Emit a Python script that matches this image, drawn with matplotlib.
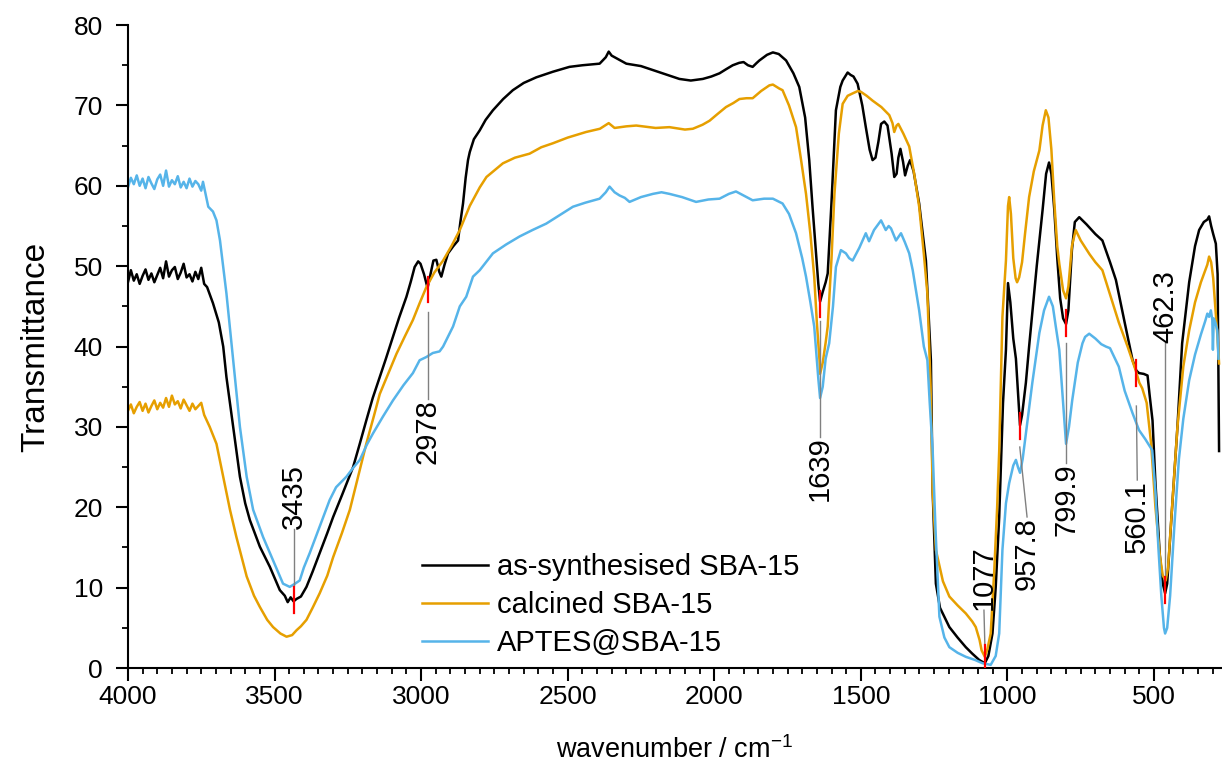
import matplotlib
matplotlib.use("Agg")
from matplotlib import pyplot as plt
from matplotlib.ticker import MultipleLocator

# --- data (wavenumber / cm-1, transmittance) ---
black_wn = [4000, 3990, 3980, 3970, 3960, 3950, 3940, 3930, 3920, 3910, 3900, 3890, 3880, 3870,
            3860, 3850, 3840, 3830, 3820, 3810, 3800, 3790, 3780, 3770, 3760, 3750, 3740, 3730,
            3710, 3690, 3675, 3664, 3641, 3618, 3600, 3584, 3550, 3516, 3482, 3465, 3455, 3445,
            3435, 3425, 3410, 3391, 3370, 3346, 3320, 3300, 3270, 3232, 3210, 3187, 3165, 3141,
            3120, 3096, 3075, 3050, 3035, 3022, 3010, 3002, 2990, 2978, 2968, 2958, 2948, 2938,
            2931, 2920, 2908, 2890, 2874, 2866, 2857, 2848, 2840, 2834, 2820, 2800, 2780, 2755,
            2720, 2687, 2650, 2607, 2550, 2494, 2450, 2391, 2370, 2360, 2350, 2330, 2300, 2250,
            2209, 2160, 2119, 2080, 2039, 2010, 1982, 1960, 1937, 1915, 1900, 1885, 1869, 1855,
            1846, 1820, 1800, 1780, 1755, 1730, 1710, 1690, 1676, 1665, 1653, 1645, 1639, 1630,
            1620, 1613, 1600, 1585, 1570, 1562, 1545, 1535, 1525, 1511, 1495, 1483, 1470, 1460,
            1450, 1440, 1431, 1420, 1409, 1395, 1386, 1378, 1372, 1365, 1356, 1349, 1340, 1332,
            1320, 1301, 1278, 1261, 1255, 1244, 1230, 1198, 1170, 1142, 1120, 1096, 1077, 1065,
            1051, 1040, 1028, 1015, 1005, 998, 990, 980, 971, 957, 950, 937, 926, 900, 880, 868,
            858, 850, 840, 830, 820, 810, 800, 792, 780, 770, 755, 730, 700, 676, 650, 630, 600,
            573, 560, 551, 535, 522, 515, 505, 495, 480, 470, 462, 455, 440, 420, 404, 380, 360,
            346, 330, 318, 312, 305, 298, 289, 283, 281, 278]
black_t = [48.0, 49.5, 48.2, 49.0, 47.8, 48.8, 49.6, 48.3, 49.1, 48.0, 48.9, 49.8, 48.5, 50.6,
           48.7, 49.5, 49.9, 48.4, 49.2, 50.3, 48.6, 49.0, 48.1, 49.3, 48.4, 49.8, 47.8, 47.4,
           45.4, 43.0, 40.0, 36.2, 30.0, 23.8, 20.5, 18.4, 15.1, 12.6, 9.7, 9.0, 8.2, 8.8,
           8.3, 8.6, 8.9, 10.1, 12.0, 14.3, 16.8, 18.8, 21.5, 25.0, 27.8, 30.8, 33.6, 36.2,
           38.5, 41.2, 43.6, 46.2, 48.1, 49.9, 50.6, 50.3, 49.0, 47.3, 49.0, 50.7, 50.8, 49.3,
           48.7, 50.2, 51.6, 52.5, 53.2, 55.5, 57.8, 61.0, 63.2, 64.2, 65.8, 66.9, 68.2, 69.4,
           70.8, 71.9, 72.8, 73.5, 74.2, 74.8, 75.0, 75.2, 76.0, 76.7, 76.2, 75.8, 75.2, 74.9,
           74.4, 73.8, 73.3, 73.1, 73.3, 73.6, 74.0, 74.5, 75.0, 75.3, 75.4, 75.0, 74.8, 75.3,
           75.6, 76.3, 76.6, 76.4, 75.6, 74.0, 72.3, 68.5, 63.2, 57.5, 51.6, 47.8, 45.6, 46.8,
           48.0, 49.1, 58.0, 69.4, 72.3, 73.1, 74.1, 73.8, 73.6, 72.7, 70.0, 67.3, 64.5, 63.2,
           63.5, 65.5, 67.7, 68.0, 67.5, 64.0, 61.1, 61.5, 63.5, 64.6, 63.0, 61.3, 62.5, 63.2,
           61.8, 57.8, 50.7, 38.3, 22.0, 10.5, 7.5, 5.1, 3.8, 2.6, 1.8, 1.0, 0.6, 1.5,
           4.3, 10.0, 18.8, 33.0, 39.6, 47.9, 45.5, 41.0, 38.5, 30.2, 31.5, 35.5, 40.0, 50.0, 57.0, 61.5,
           62.9, 61.5, 57.0, 51.0, 46.0, 43.5, 42.8, 44.5, 52.0, 55.5, 56.1, 55.2, 54.0, 53.2, 50.5, 48.3, 43.0,
           38.3, 37.0, 36.7, 36.6, 36.4, 34.0, 30.8, 23.0, 14.0, 10.5, 9.3, 10.5, 19.0, 30.0, 40.4, 48.0, 52.5,
           54.5, 55.5, 55.8, 56.2, 55.0, 54.0, 52.8, 49.0, 40.0, 27.0]

orange_wn = [4000, 3990, 3980, 3970, 3960, 3950, 3940, 3930, 3920, 3910, 3900, 3890, 3880, 3870,
             3860, 3850, 3840, 3830, 3820, 3810, 3800, 3790, 3780, 3770, 3760, 3750, 3740, 3721,
             3698, 3675, 3652, 3630, 3595, 3570, 3550, 3525, 3505, 3480, 3459, 3440, 3425, 3410,
             3391, 3370, 3346, 3320, 3300, 3270, 3243, 3215, 3187, 3160, 3141, 3110, 3084, 3055,
             3028, 3005, 2982, 2955, 2925, 2895, 2868, 2834, 2800, 2777, 2721, 2680, 2630, 2590,
             2550, 2500, 2437, 2390, 2360, 2340, 2300, 2266, 2200, 2153, 2100, 2073, 2040, 2016,
             1990, 1960, 1935, 1914, 1890, 1869, 1840, 1812, 1800, 1778, 1767, 1745, 1721, 1705,
             1687, 1672, 1659, 1650, 1641, 1639, 1630, 1620, 1613, 1600, 1590, 1575, 1562, 1545,
             1528, 1510, 1500, 1480, 1460, 1430, 1403, 1392, 1386, 1378, 1372, 1355, 1335, 1318,
             1301, 1285, 1273, 1262, 1255, 1244, 1220, 1198, 1170, 1142, 1120, 1108, 1095, 1088,
             1077, 1068, 1057, 1045, 1035, 1028, 1017, 1005, 998, 994, 988, 980, 972, 967, 960,
             950, 940, 926, 910, 891, 880, 869, 860, 850, 840, 830, 823, 810, 800, 792, 780, 767,
             750, 720, 700, 676, 650, 620, 590, 562, 550, 540, 525, 510, 495, 480, 470, 460, 452,
             440, 420, 400, 380, 360, 340, 325, 318, 312, 305, 298, 289, 283, 278]
orange_t = [32.0, 32.8, 31.7, 32.5, 33.1, 32.0, 32.9, 31.8, 32.6, 33.3, 32.2, 33.0, 32.4, 33.6,
            32.5, 33.9, 32.8, 33.2, 32.3, 33.4, 32.7, 32.0, 32.9, 32.2, 32.6, 33.0, 31.5, 30.0,
            27.9, 23.8, 19.7, 16.3, 11.4, 9.0, 7.6, 6.0, 5.1, 4.3, 3.9, 4.1, 4.7, 5.2,
            6.0, 7.5, 9.3, 11.5, 13.8, 16.8, 19.7, 23.8, 27.9, 31.5, 34.1, 36.8, 39.1, 41.3,
            43.3, 45.4, 47.4, 49.2, 50.7, 52.6, 54.5, 57.5, 59.8, 61.1, 62.8, 63.5, 64.0, 64.8,
            65.3, 66.0, 66.7, 67.1, 67.8, 67.2, 67.4, 67.5, 67.2, 67.3, 67.0, 67.1, 67.6, 68.1,
            68.9, 69.8, 70.3, 70.8, 70.9, 70.9, 71.8, 72.5, 72.6, 72.1, 71.9, 70.0, 67.3, 63.5,
            59.0, 54.0, 48.7, 43.0, 38.3, 36.6, 38.0, 40.5, 42.5, 51.0, 59.0, 66.5, 70.2, 71.2,
            71.5, 71.8, 71.7, 71.2, 70.6, 69.8, 68.8, 67.8, 66.7, 67.5, 67.7, 66.5, 64.9, 61.5,
            57.4, 51.5, 46.6, 35.0, 22.0, 14.7, 10.8, 8.9, 7.8, 6.8, 5.8, 5.1, 3.5, 2.2,
            1.4, 2.4, 4.3, 12.0, 20.0, 27.0, 43.7, 50.7, 57.5, 58.6, 56.5, 51.0, 48.5, 48.0, 48.6,
            50.5, 54.0, 58.6, 61.8, 64.4, 67.5, 69.4, 68.5, 64.5, 58.0, 52.5, 50.3, 47.0, 46.0, 47.5, 52.5, 54.5,
            53.2, 51.5, 50.5, 49.5, 46.5, 43.0, 40.0, 37.0, 35.5, 34.8, 33.0, 28.0, 20.0, 14.0, 11.5, 10.9, 12.5,
            19.0, 30.0, 37.5, 42.0, 45.5, 48.0, 49.5, 50.2, 51.2, 50.5, 48.5, 44.1, 41.0, 37.9]

blue_wn = [4000, 3990, 3980, 3970, 3960, 3950, 3940, 3930, 3920, 3910, 3900, 3890, 3880, 3870,
           3860, 3850, 3840, 3830, 3820, 3810, 3800, 3790, 3780, 3770, 3760, 3750, 3744, 3726,
           3710, 3698, 3686, 3664, 3641, 3618, 3595, 3573, 3539, 3505, 3471, 3448, 3430, 3414,
           3400, 3380, 3346, 3312, 3290, 3255, 3232, 3209, 3185, 3164, 3130, 3096, 3060, 3028,
           3005, 2982, 2960, 2937, 2925, 2891, 2868, 2846, 2823, 2800, 2755, 2710, 2664, 2620,
           2573, 2530, 2482, 2440, 2391, 2370, 2357, 2340, 2323, 2305, 2289, 2250, 2209, 2180,
           2153, 2110, 2062, 2020, 1982, 1950, 1926, 1900, 1869, 1830, 1800, 1767, 1745, 1721,
           1700, 1687, 1672, 1659, 1645, 1639, 1630, 1620, 1608, 1595, 1585, 1568, 1551, 1540,
           1528, 1505, 1483, 1472, 1455, 1431, 1415, 1405, 1397, 1380, 1363, 1350, 1335, 1323,
           1301, 1285, 1273, 1265, 1255, 1245, 1232, 1215, 1198, 1170, 1142, 1110, 1085, 1057,
           1040, 1028, 1017, 1005, 994, 980, 971, 964, 957, 948, 937, 915, 891, 875, 858, 845,
           835, 823, 812, 800, 790, 779, 760, 744, 735, 721, 700, 680, 664, 650, 620, 600, 573,
           551, 530, 506, 495, 485, 475, 466, 462, 455, 445, 430, 415, 400, 380, 360, 340, 325,
           318, 312, 306, 301, 299, 296, 290, 284, 280]
blue_t = [59.8, 61.0, 60.2, 61.3, 60.0, 60.9, 59.7, 61.1, 60.3, 59.6, 60.8, 61.4, 60.0, 61.9,
          59.9, 60.7, 60.2, 61.2, 59.8, 60.5, 59.7, 60.9, 59.9, 60.6, 60.2, 59.4, 60.5, 57.4,
          56.8, 55.7, 53.2, 46.6, 38.3, 30.0, 23.8, 19.7, 16.3, 13.4, 10.5, 10.1, 10.5, 10.9,
          12.5, 14.3, 17.6, 20.9, 22.5, 23.8, 24.9, 25.9, 27.8, 29.2, 31.3, 33.3, 35.2, 36.7,
          38.3, 38.7, 39.2, 39.4, 40.0, 42.5, 45.0, 46.2, 48.7, 49.5, 51.6, 52.7, 53.7, 54.5,
          55.3, 56.3, 57.4, 57.9, 58.4, 59.2, 59.9, 59.2, 58.8, 58.5, 58.0, 58.6, 59.0, 59.2,
          59.0, 58.6, 58.0, 58.3, 58.4, 59.0, 59.3, 58.8, 58.2, 58.4, 58.4, 57.8, 56.5, 54.1,
          51.0, 48.7, 45.5, 42.5, 36.0, 33.6, 35.0, 38.5, 40.4, 45.0, 49.9, 52.0, 51.6, 51.0,
          50.7, 52.3, 54.1, 53.1, 54.5, 55.7, 54.5, 55.0, 54.7, 53.2, 54.1, 53.0, 51.6, 49.5,
          44.5, 40.0, 38.3, 33.0, 27.1, 17.0, 6.4, 3.8, 2.6, 1.9, 1.4, 1.0, 0.6, 0.4,
          1.5, 4.3, 14.7, 20.5, 23.0, 25.2, 25.9, 25.0, 24.3, 26.0, 29.2, 35.5, 41.7, 44.5, 46.2, 45.0,
          42.5, 39.6, 34.0, 27.9, 30.0, 33.3, 38.0, 40.4, 41.2, 41.6, 41.0, 40.3, 40.0, 39.8, 37.5, 34.5, 31.7,
          29.6, 28.5, 27.1, 22.0, 15.0, 9.0, 5.0, 4.3, 5.0, 9.0, 18.0, 26.0, 31.0, 35.8, 39.0, 41.5, 43.2,
          44.1, 43.7, 44.5, 43.3, 39.6, 43.5, 42.9, 42.0, 38.5]

series_names = ["as-synthesised SBA-15", "calcined SBA-15", "APTES@SBA-15"]

# marked bands (on the as-synthesised curve)
peak_labels = ["3435", "2978", "1639", "1077", "957.8", "799.9", "560.1", "462.3"]
peak_wn = [3435, 2978, 1639, 1077, 957.8, 799.9, 560.1, 462.3]
peak_t = [8.5, 47.1, 45.3, 1.3, 30.1, 42.9, 36.7, 9.7]

# layout of the labels: (leader start y, leader end x, leader end y, text side)
label_layout = [(10.3, 3435, 17.3, "up"),
                (44.3, 2978, 33.5, "down"),
                (43.2, 1639, 28.8, "down"),
                (3.0, 1080, 7.2, "up"),
                (27.5, 933, 18.8, "down"),
                (40.5, 799.9, 25.5, "down"),
                (32.6, 557, 23.4, "down"),
                (11.5, 462.3, 40.4, "up")]

plt.rcParams['font.family'] = ['Liberation Sans', 'DejaVu Sans']
plt.rcParams['mathtext.default'] = 'regular'
fs_tick = 19
fs_text = 21

fig = plt.figure(figsize=(12.22, 7.67), dpi=100)
ax = fig.add_axes([0.1047, 0.129, 0.8953, 0.8383])

colors = ["#000000", "#E69F00", "#56B4E9"]
for wn, t, c, name in zip([black_wn, orange_wn, blue_wn], [black_t, orange_t, blue_t],
                          colors, series_names):
    ax.plot(wn, t, color=c, lw=1.8, label=name)

for i, lab in enumerate(peak_labels):
    y0, xe, ye, side = label_layout[i]
    ax.plot([peak_wn[i], peak_wn[i]], [peak_t[i] - 1.6, peak_t[i] + 1.6], color="red", lw=1.6, zorder=5)
    ax.plot([peak_wn[i], xe], [y0, ye], color="#808080", lw=1.0, zorder=4)
    ax.text(xe, ye, lab, rotation=90, fontsize=fs_text, ha="center",
            va="bottom" if side == "up" else "top", zorder=6)

ax.set_xlim(4000, 268)
ax.set_ylim(0, 80)
ax.xaxis.set_major_locator(MultipleLocator(500))
ax.xaxis.set_minor_locator(MultipleLocator(50))
ax.yaxis.set_major_locator(MultipleLocator(10))
ax.yaxis.set_minor_locator(MultipleLocator(5))

for s in ["top", "right"]:
    ax.spines[s].set_visible(False)
for s in ["left", "bottom"]:
    ax.spines[s].set_linewidth(1.5)
ax.tick_params(axis="both", which="major", direction="out", length=9, width=1.5, labelsize=fs_tick)
ax.tick_params(axis="both", which="minor", direction="out", length=4, width=1.3)
ax.tick_params(axis="y", which="major", pad=9)
ax.tick_params(axis="x", which="major", pad=3)

ax.set_xlabel("wavenumber / cm$^{-1}$", fontsize=19.5, labelpad=20)
ax.set_ylabel("Transmittance", fontsize=24, labelpad=16)

ax.legend(loc="center left", bbox_to_anchor=(0.2687, 0.098), frameon=False, fontsize=fs_text,
          handlelength=2.26, handletextpad=0.31, labelspacing=0.35, borderpad=0, borderaxespad=0)

fig.savefig("out.png", dpi=100)
